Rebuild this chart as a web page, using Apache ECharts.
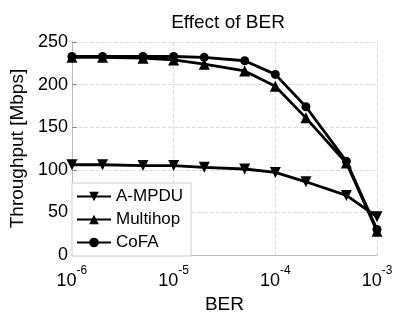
<!DOCTYPE html>
<html>
<head>
<meta charset="utf-8">
<script src="https://cdn.jsdelivr.net/npm/echarts@6/dist/echarts.min.js"></script>
<style>
  html, body { margin: 0; padding: 0; background: #fff; }
  #chart { width: 397px; height: 319px; }
</style>
</head>
<body>
<div id="chart"></div>
<script>
const ber = [1e-6, 2e-6, 5e-6, 1e-5, 2e-5, 5e-5, 1e-4, 2e-4, 5e-4, 1e-3];
const ampdu = [106, 106, 105, 105, 103, 101, 97, 86, 70, 45];
const multihop = [232, 232, 231, 229, 224, 216, 198, 161, 108, 28];
const cofa = [233, 233, 233, 233, 232, 228, 212, 174, 110, 30];
const minorX = [2e-6, 3e-6, 4e-6, 5e-6, 6e-6, 7e-6, 8e-6, 9e-6,
  2e-5, 3e-5, 4e-5, 5e-5, 6e-5, 7e-5, 8e-5, 9e-5,
  2e-4, 3e-4, 4e-4, 5e-4, 6e-4, 7e-4, 8e-4, 9e-4];

const chart = echarts.init(document.getElementById('chart'));
const font = 'Liberation Sans';

function pairs(ys) {
  return ber.map((x, i) => [x, ys[i]]);
}

const lineStyle = { color: '#000', width: 2.8 };

chart.setOption({
  animation: false,
  textStyle: { fontFamily: font },
  title: {
    text: 'Effect of BER',
    left: 223, top: 8, textAlign: 'center',
    textStyle: { fontSize: 19, fontWeight: 'normal', color: '#000', fontFamily: font }
  },
  grid: { left: 70, right: 20, top: 42, bottom: 52 },
  legend: {
    orient: 'vertical',
    left: 72, top: 183,
    itemWidth: 34, itemHeight: 12, itemGap: 6,
    padding: [5, 8, 5, 4],
    backgroundColor: '#fff',
    borderColor: '#ccc', borderWidth: 1,
    textStyle: { fontSize: 17, color: '#000', fontFamily: font },
    data: ['A-MPDU', 'Multihop', 'CoFA']
  },
  xAxis: {
    type: 'log', logBase: 10, min: 1e-6, max: 1e-3,
    name: 'BER', nameLocation: 'middle', nameGap: 34,
    nameTextStyle: { fontSize: 19, color: '#000', fontFamily: font },
    axisLine: { lineStyle: { color: '#bbb' } },
    axisTick: { show: false },
    splitLine: { show: true, lineStyle: { color: '#ddd', type: 'dashed' } },
    axisLabel: {
      margin: 10,
      formatter: v => '{b|10}{s|' + Math.round(Math.log10(v)) + '}',
      rich: {
        b: { fontSize: 18, color: '#000', fontFamily: font, verticalAlign: 'bottom' },
        s: { fontSize: 12, color: '#000', fontFamily: font, verticalAlign: 'top', padding: [0, 0, 13, 0] }
      }
    }
  },
  yAxis: {
    type: 'value', min: 0, max: 250, interval: 50,
    name: 'Throughput [Mbps]', nameLocation: 'middle', nameGap: 41,
    nameTextStyle: { fontSize: 19, color: '#000', fontFamily: font },
    axisLine: { show: true, lineStyle: { color: '#bbb' } },
    axisTick: { show: true, inside: true, lineStyle: { color: '#888' } },
    splitLine: { show: true, lineStyle: { color: '#ddd', type: 'dashed' } },
    axisLabel: { fontSize: 18, color: '#000', fontFamily: font, margin: 4 }
  },
  series: [
    {
      name: 'minor', type: 'line', data: [], silent: true,
      markLine: {
        symbol: 'none', silent: true, label: { show: false },
        lineStyle: { color: '#e6e6e6', type: 'dotted', width: 1 },
        data: minorX.map(x => ({ xAxis: x }))
      }
    },
    {
      name: 'A-MPDU', type: 'line', data: pairs(ampdu),
      symbol: 'triangle', symbolRotate: 180, symbolSize: 11,
      lineStyle, itemStyle: { color: '#000' }
    },
    {
      name: 'Multihop', type: 'line', data: pairs(multihop),
      symbol: 'triangle', symbolSize: 11,
      lineStyle, itemStyle: { color: '#000' }
    },
    {
      name: 'CoFA', type: 'line', data: pairs(cofa),
      symbol: 'circle', symbolSize: 9,
      lineStyle, itemStyle: { color: '#000' }
    }
  ]
});
</script>
</body>
</html>
